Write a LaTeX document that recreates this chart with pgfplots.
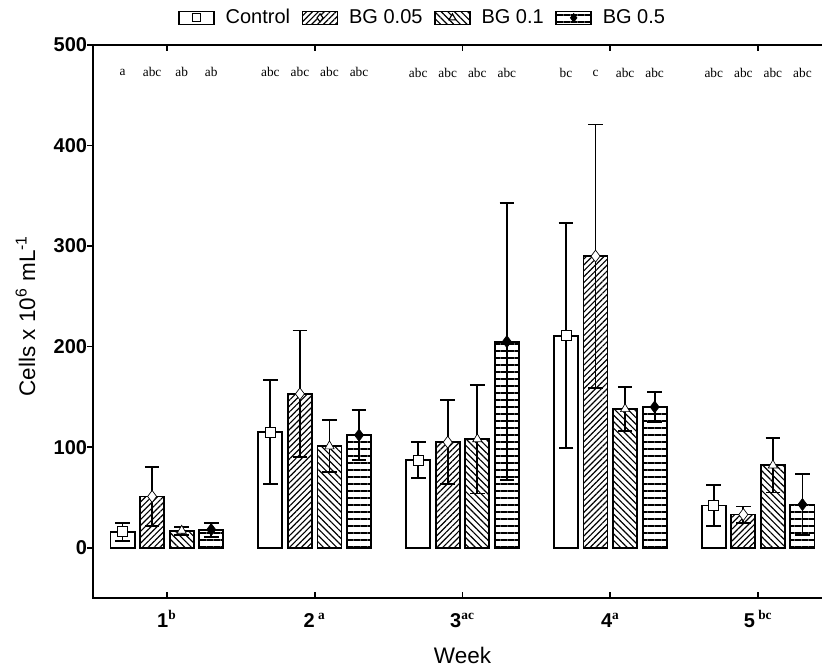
\documentclass[border=0pt]{standalone}
\usepackage{fontspec}
\setmainfont{Liberation Sans}
\newfontfamily\letterfont{Liberation Serif}
\usepackage{pgfplots}
\usepackage{pgfplotstable}
\pgfplotsset{compat=1.18}
\usetikzlibrary{patterns.meta}

\pgfplotstableread{
week C Ce B05 B05e B1 B1e B5 B5e
1 16 9 51 29 17 4 18 7
2 115 52 153 63 101 26 112 25
3 87 18 105 42 108 54 205 138
4 211 112 290 131 138 22 140 15
5 42 20 33 8 82 27 43 30
}\datatable

\pgfplotstableread{
x y lab
0.7 473 a
0.9 473 abc
1.1 473 ab
1.3 473 ab
1.7 473 abc
1.9 473 abc
2.1 473 abc
2.3 473 abc
2.7 472 abc
2.9 472 abc
3.1 472 abc
3.3 472 abc
3.7 472 bc
3.9 472 c
4.1 472 abc
4.3 472 abc
4.7 472 abc
4.9 472 abc
5.1 472 abc
5.3 472 abc
}\lettertable

\pgfplotsset{
 barleg/.style 2 args={legend image code/.code={
   \draw[##1,line width=0.9pt] (0pt,-3.9pt) rectangle (21pt,3.9pt);
   \draw[sharp plot,black,line width=0.7pt,mark=#1,mark size=2.4pt,mark options={fill=#2,draw=black,solid}] plot coordinates {(10.5pt,0pt)};
 }},
 mybar/.style={ybar, bar width=0.163, draw=black, line width=1.1pt},
 mymark/.style={only marks, forget plot, mark size=#1, mark options={draw=black,line width=0.8pt,solid},
   error bars/y dir=both, error bars/y explicit,
   error bars/error bar style={line width=1.1pt,black},
   error bars/error mark=-,
   error bars/error mark options={rotate=90,mark size=4.4pt,line width=1.1pt,black}},
}

\begin{document}
\begin{tikzpicture}
\begin{axis}[
  scale only axis, width=443.4pt, height=331.8pt,
  xmin=0.5, xmax=5.5, ymin=-50, ymax=500,
  xtick={1,2,3,4,5},
  xticklabels={1\textsuperscript{\letterfont b},
               2\,\textsuperscript{\letterfont a},
               3\textsuperscript{\letterfont ac},
               4\textsuperscript{\letterfont a},
               5\,\textsuperscript{\letterfont bc}},
  ytick={0,100,200,300,400,500},
  ytick pos=left,
  tick align=inside,
  major tick length=3.5pt,
  ytick style={xshift=-3.5pt},
  every tick/.style={black, line width=1pt},
  axis line style={line width=1pt},
  /pgf/number format/assume math mode=true,
  tick label style={font=\bfseries\fontsize{12}{14}\selectfont},
  xticklabel style={anchor=base, yshift=-17.4pt},
  xlabel={Week},
  ylabel={Cells x 10\textsuperscript{6} mL\textsuperscript{-1}},
  every axis x label/.style={at={(axis description cs:0.5,0)}, anchor=center, yshift=-34.5pt,
     font=\fontsize{13.5}{15}\selectfont},
  every axis y label/.style={at={(axis description cs:0,0.51)}, xshift=-40.5pt, rotate=90, anchor=center,
     font=\fontsize{13.5}{15}\selectfont},
  legend style={draw=none, at={(0.115,1)}, anchor=south west, yshift=9pt,
    legend columns=-1, font=\fontsize{12}{14}\selectfont, inner sep=0pt,
    /tikz/every odd column/.append style={column sep=4.5pt},
    /tikz/every even column/.append style={column sep=5pt}},
]
\coordinate (SW) at (rel axis cs:0,0);
\coordinate (NE) at (rel axis cs:1,1);

\addplot[mybar, bar shift=-0.3, fill=white, barleg={square*}{white}]
  table[x=week, y=C] {\datatable};
\addlegendentry{Control}
\addplot[mybar, bar shift=-0.1, pattern={Lines[angle=45,distance=2.5pt,line width=0.7pt]}, barleg={diamond*}{white}]
  table[x=week, y=B05] {\datatable};
\addlegendentry{BG 0.05}
\addplot[mybar, bar shift=0.1, pattern={Lines[angle=-45,distance=2.8pt,line width=0.7pt]}, barleg={triangle*}{white}]
  table[x=week, y=B1] {\datatable};
\addlegendentry{BG 0.1}
\addplot[mybar, bar shift=0.3, pattern={Lines[angle=0,distance=4.2pt,line width=1pt]}, barleg={diamond*}{black}]
  table[x=week, y=B5] {\datatable};
\addlegendentry{BG 0.5}

\addplot[mymark=3pt, mark=square*, mark options={fill=white}]
  table[x expr=\thisrow{week}-0.3, y=C, y error=Ce] {\datatable};
\addplot[mymark=3.6pt, mark=diamond*, mark options={fill=white}]
  table[x expr=\thisrow{week}-0.1, y=B05, y error=B05e] {\datatable};
\addplot[mymark=3.2pt, mark=triangle*, mark options={fill=white}]
  table[x expr=\thisrow{week}+0.1, y=B1, y error=B1e] {\datatable};
\addplot[mymark=3.6pt, mark=diamond*, mark options={fill=black}]
  table[x expr=\thisrow{week}+0.3, y=B5, y error=B5e] {\datatable};

\addplot[forget plot, draw=none, mark=none, nodes near coords, point meta=explicit symbolic,
  nodes near coords align={center},
  nodes near coords style={font=\letterfont\fontsize{8}{9}\selectfont, inner sep=0pt}]
  table[x=x, y=y, meta=lab] {\lettertable};
\end{axis}
\pgfresetboundingbox
\path[use as bounding box] ([xshift=-55.8pt,yshift=-40.8pt]SW) rectangle ([xshift=-6pt,yshift=27pt]NE);
\end{tikzpicture}
\end{document}
